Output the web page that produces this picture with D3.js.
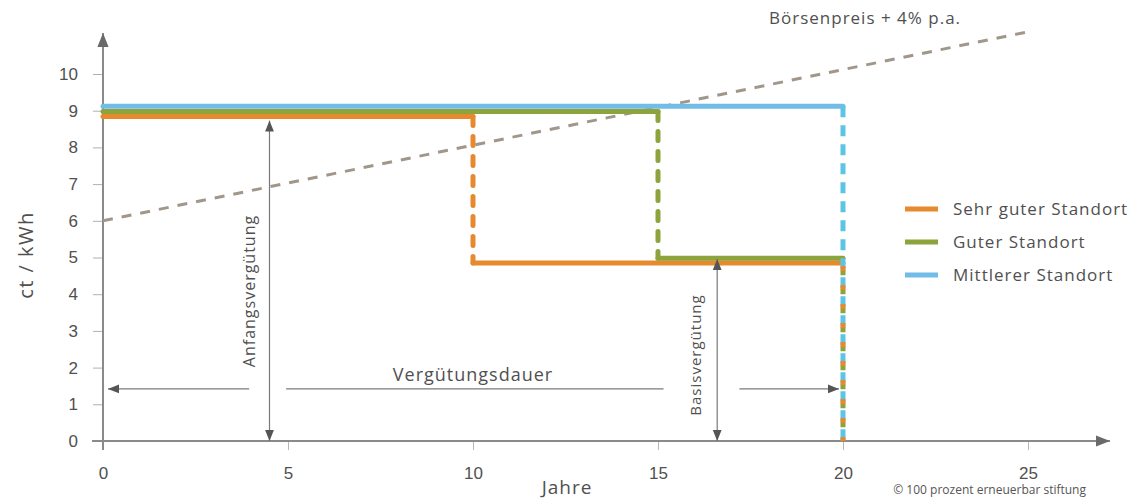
<!DOCTYPE html>
<html>
<head>
<meta charset="utf-8">
<script src="https://cdn.jsdelivr.net/npm/d3@7"></script>
<style>
  html, body { margin: 0; padding: 0; background: #fff; }
  svg { display: block; font-family: "Open Sans", "Noto Sans", sans-serif; }
</style>
</head>
<body>
<svg id="chart" width="1140" height="499"></svg>
<script>
// Feed-in tariff by site quality (ct/kWh over years)
const seriesNames = ["Sehr guter Standort", "Guter Standort", "Mittlerer Standort"];
const seriesColors = ["#e78a2e", "#8ca43b", "#72bce8"];
const startRate = [8.84, 8.98, 9.12];   // Anfangsvergütung
const stepYear = [10, 15, 20];          // end of the initial tariff period
const baseRate = [4.85, 4.98, 9.12];    // Basisvergütung after the step
const endYear = 20;                      // Vergütungsdauer

// Market price trend line
const marketYears = [0, 25];
const marketPrice = [6.0, 11.15];

const xTicks = [0, 5, 10, 15, 20, 25];
const yTicks = [0, 1, 2, 3, 4, 5, 6, 7, 8, 9, 10];

const svg = d3.select("#chart");
const x = d3.scaleLinear().domain([0, 25]).range([103, 1028]);
const y = d3.scaleLinear().domain([0, 10]).range([441, 74]);

const textColor = "#505050";
const axisColor = "#8a8a8a";

// arrowhead markers
const defs = svg.append("defs");
function marker(id, size, color) {
  defs.append("marker")
    .attr("id", id)
    .attr("viewBox", "0 0 10 10")
    .attr("refX", 10).attr("refY", 5)
    .attr("markerWidth", size).attr("markerHeight", size)
    .attr("markerUnits", "userSpaceOnUse")
    .attr("orient", "auto-start-reverse")
    .append("path")
    .attr("d", "M0,1 L10,5 L0,9 Z")
    .attr("fill", color);
}
marker("axisArrow", 14, "#6a6a6a");
marker("dimArrow", 11, "#555");

// y axis ticks and labels
const gy = svg.append("g").attr("transform", `translate(${x(0)},0)`)
  .call(d3.axisLeft(y).tickValues(yTicks).tickSize(10).tickPadding(15));
gy.select(".domain").remove();
gy.selectAll(".tick line").attr("stroke", "#b0b0b0").attr("stroke-width", 1);
gy.selectAll(".tick text").attr("fill", textColor).style("font-size", "17px");

// x axis ticks and labels
const gx = svg.append("g").attr("transform", `translate(0,${y(0) + 1})`)
  .call(d3.axisBottom(x).tickValues(xTicks).tickSize(8).tickPadding(17));
gx.select(".domain").remove();
gx.selectAll(".tick line").attr("stroke", "#b8b8b8").attr("stroke-width", 1);
gx.selectAll(".tick text").attr("fill", textColor).style("font-size", "17px");

// axis lines with arrows
svg.append("line")
  .attr("x1", x(0)).attr("y1", y(0) + 9).attr("x2", x(0)).attr("y2", 33)
  .attr("stroke", axisColor).attr("stroke-width", 2).attr("marker-end", "url(#axisArrow)");
svg.append("line")
  .attr("x1", x(0) - 11).attr("y1", y(0)).attr("x2", 1110).attr("y2", y(0))
  .attr("stroke", axisColor).attr("stroke-width", 2).attr("marker-end", "url(#axisArrow)");

// axis titles
svg.append("text")
  .attr("transform", "translate(33,255) rotate(-90)")
  .attr("text-anchor", "middle").attr("fill", textColor)
  .style("font-size", "20px").style("letter-spacing", "1.5px").text("ct / kWh");
svg.append("text")
  .attr("x", 567).attr("y", 494).attr("text-anchor", "middle").attr("fill", textColor)
  .style("font-size", "19px").style("letter-spacing", "1px").text("Jahre");

// market price trend
const line = d3.line().x(d => x(d[0])).y(d => y(d[1]));
svg.append("path")
  .datum(marketYears.map((yr, i) => [yr, marketPrice[i]]))
  .attr("d", line)
  .attr("fill", "none").attr("stroke", "#a0968a").attr("stroke-width", 3)
  .attr("stroke-dasharray", "10,9");
svg.append("text")
  .attr("x", 769).attr("y", 24).attr("fill", textColor)
  .style("font-size", "17px").style("letter-spacing", "1px").text("Börsenpreis + 4% p.a.");

// tariff step lines
const lineW = 5;
seriesNames.forEach((name, i) => {
  const c = seriesColors[i];
  const solid = [[[0, startRate[i]], [stepYear[i], startRate[i]]]];
  const dashed = [];
  if (stepYear[i] < endYear) {
    dashed.push([[stepYear[i], startRate[i]], [stepYear[i], baseRate[i]]]);
    solid.push([[stepYear[i], baseRate[i]], [endYear, baseRate[i]]]);
  }
  const g = svg.append("g");
  solid.forEach(seg => g.append("path").attr("d", line(seg))
    .attr("fill", "none").attr("stroke", c).attr("stroke-width", lineW).attr("stroke-linecap", "round"));
  dashed.forEach(seg => g.append("path").attr("d", line(seg))
    .attr("fill", "none").attr("stroke", c).attr("stroke-width", lineW)
    .attr("stroke-linecap", "round").attr("stroke-dasharray", "9,11"));
});

// closing verticals at the end of the tariff period
const endDrops = [
  { i: 2, dash: "11,8", offset: 0 },
  { i: 1, dash: "5,14", offset: -12 },
  { i: 0, dash: "5,14", offset: -3 }
];
endDrops.forEach(d => {
  const top = d.i === 2 ? startRate[2] : baseRate[d.i];
  svg.append("path")
    .attr("d", line([[endYear, top], [endYear, 0]]))
    .attr("fill", "none")
    .attr("stroke", d.i === 2 ? "#5ec4e6" : seriesColors[d.i])
    .attr("stroke-width", lineW)
    .attr("stroke-dasharray", d.dash)
    .attr("stroke-dashoffset", d.offset);
});

// dimension annotations
function dim(x1, y1, x2, y2, startArrow, endArrow) {
  const l = svg.append("line")
    .attr("x1", x1).attr("y1", y1).attr("x2", x2).attr("y2", y2)
    .attr("stroke", "#7a7a7a").attr("stroke-width", 1.2);
  if (startArrow) l.attr("marker-start", "url(#dimArrow)");
  if (endArrow) l.attr("marker-end", "url(#dimArrow)");
}
// Anfangsvergütung
dim(x(4.5), y(0), x(4.5), y(startRate[0]) + 4, true, true);
svg.append("text")
  .attr("transform", `translate(${x(4.5) - 14.5},291) rotate(-90)`)
  .attr("text-anchor", "middle").attr("fill", textColor)
  .style("font-size", "16px").style("letter-spacing", "1px").text("Anfangsvergütung");
// Basisvergütung
dim(x(16.6), y(0), x(16.6), y(baseRate[0]) - 4, true, true);
svg.append("text")
  .attr("transform", `translate(${x(16.6) - 16},355) rotate(-90)`)
  .attr("text-anchor", "middle").attr("fill", textColor)
  .style("font-size", "15px").style("letter-spacing", "1px").text("Basisvergütung");
// Vergütungsdauer
const yd = y(1.42);
dim(x(3.95), yd, x(0) + 5, yd, false, true);
dim(x(4.95), yd, x(15.15), yd, false, false);
dim(x(17.2), yd, x(endYear) - 4, yd, false, true);
svg.append("text")
  .attr("x", x(10)).attr("y", yd - 8).attr("text-anchor", "middle").attr("fill", textColor)
  .style("font-size", "18px").style("letter-spacing", "1px").text("Vergütungsdauer");

// legend
const legend = svg.append("g").attr("transform", "translate(905,209)");
seriesNames.forEach((name, i) => {
  const row = legend.append("g").attr("transform", `translate(0,${i * 33})`);
  row.append("line").attr("x1", 0).attr("x2", 33).attr("y1", 0).attr("y2", 0)
    .attr("stroke", seriesColors[i]).attr("stroke-width", 5);
  row.append("text").attr("x", 48).attr("y", 6).attr("fill", textColor)
    .style("font-size", "17px").style("letter-spacing", "1px").text(name);
});

// source note
svg.append("text")
  .attr("x", 1086).attr("y", 494).attr("text-anchor", "end").attr("fill", "#555")
  .style("font-size", "12px").text("© 100 prozent erneuerbar stiftung");
</script>
</body>
</html>
